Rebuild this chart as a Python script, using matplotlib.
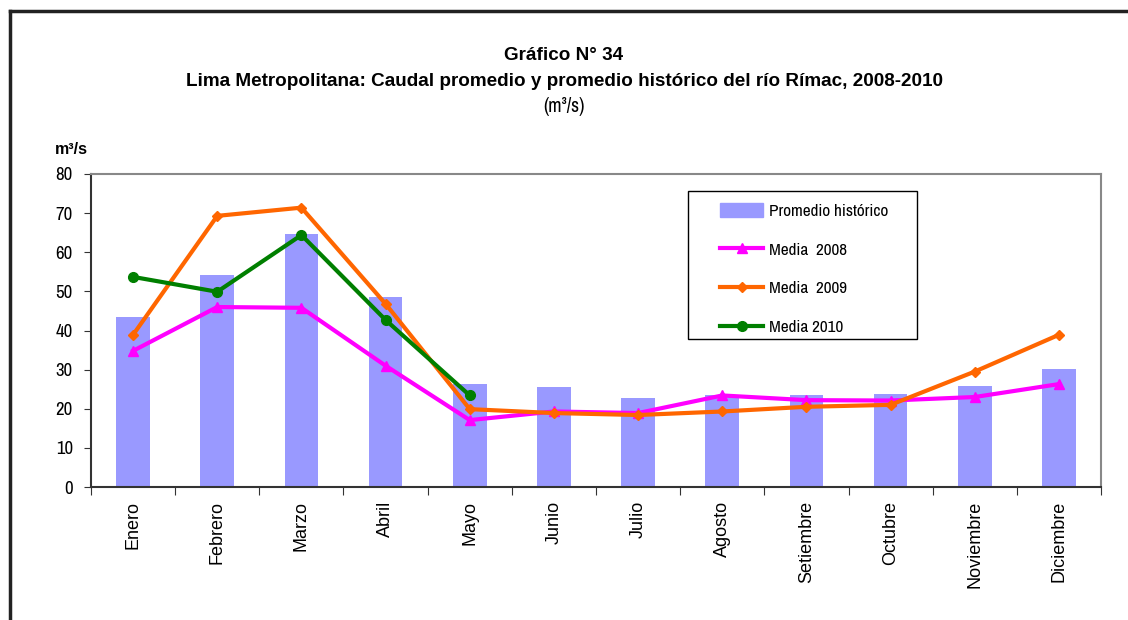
import numpy as np
import matplotlib
matplotlib.use("Agg")
import matplotlib.pyplot as plt
from matplotlib.patches import Rectangle
from matplotlib.lines import Line2D

meses = ["Enero", "Febrero", "Marzo", "Abril", "Mayo", "Junio", "Julio",
         "Agosto", "Setiembre", "Octubre", "Noviembre", "Diciembre"]
promedio_historico = [43.5, 54.2, 64.7, 48.6, 26.3, 25.6, 22.8, 23.5, 23.5, 23.8, 25.9, 30.2]
media_2008 = [34.8, 46.0, 45.8, 31.0, 17.1, 19.3, 18.9, 23.4, 22.2, 22.1, 23.0, 26.3]
media_2009 = [38.9, 69.3, 71.4, 46.8, 19.9, 18.9, 18.4, 19.3, 20.5, 21.0, 29.5, 38.9]
media_2010 = [53.7, 49.9, 64.4, 42.7, 23.4]

narrow = ["Archivo Narrow", "DejaVu Sans"]
sans = ["Liberation Sans", "Arimo", "DejaVu Sans"]

W, H = 1128, 620


def fx(px):
    return px / W


def fy(py):
    return 1 - py / H


fig = plt.figure(figsize=(W / 100, H / 100), dpi=100)
ax = fig.add_axes([fx(91), fy(487), fx(1101) - fx(91), fy(174) - fy(487)])

x = np.arange(len(meses))
ax.bar(x, promedio_historico, width=0.4, color="#9999ff", zorder=1)
ax.plot(x, media_2008, color="#ff00ff", lw=3, marker="^", ms=7, zorder=3)
ax.plot(x, media_2009, color="#ff6600", lw=3, marker="D", ms=5, zorder=4)
ax.plot(x[:len(media_2010)], media_2010, color="#007f00", lw=3, marker="o", ms=7, zorder=5)

ax.set_xlim(-0.5, len(meses) - 0.5)
ax.set_ylim(0, 80)
ax.set_yticks(range(0, 81, 10))
ax.set_xticks(np.arange(-0.5, len(meses), 1.0))
ax.set_xticklabels([])
ax.set_xticks(x, minor=True)
ax.set_xticklabels(meses, minor=True, rotation=90, fontsize=13, family=sans)
ax.tick_params(axis="x", which="minor", length=0, pad=10)
ax.tick_params(axis="x", which="major", length=6, direction="out", color="#333333")
ax.tick_params(axis="y", length=5, direction="out", color="#333333", pad=8)
for lbl in ax.get_yticklabels():
    lbl.set_family(narrow)
    lbl.set_fontsize(13.5)

for s in ["top", "right"]:
    ax.spines[s].set_color("#888888")
    ax.spines[s].set_linewidth(1.5)
for s in ["left", "bottom"]:
    ax.spines[s].set_color("#333333")
    ax.spines[s].set_linewidth(1.5)

# leyenda: caja propia y entradas sin marco
fig.add_artist(Rectangle((fx(688), fy(339)), fx(917) - fx(688), fy(191) - fy(339),
                         transform=fig.transFigure, facecolor="white",
                         edgecolor="black", lw=1.0, zorder=6))
handles = [
    Rectangle((0, 0), 1, 1, color="#9999ff"),
    Line2D([], [], color="#ff00ff", lw=3, marker="^", ms=7),
    Line2D([], [], color="#ff6600", lw=3, marker="D", ms=5),
    Line2D([], [], color="#007f00", lw=3, marker="o", ms=7),
]
labels = ["Promedio histórico", "Media  2008", "Media  2009", "Media 2010"]
leg = fig.legend(handles, labels, loc="center left",
                 bbox_to_anchor=(fx(720), fy(269)), bbox_transform=fig.transFigure,
                 prop={"family": narrow, "size": 12.4}, frameon=False,
                 labelspacing=1.32, handlelength=2.5, handleheight=0.9,
                 borderpad=0, handletextpad=0.35, borderaxespad=0)
leg.set_zorder(7)

# titulos
fig.text(0.5, fy(55), "Gráfico N° 34", ha="center", va="center",
         fontsize=13.6, fontweight="bold", family=sans)
fig.text(0.5, fy(82),
         "Lima Metropolitana: Caudal promedio y promedio histórico del río Rímac, 2008-2010",
         ha="center", va="center", fontsize=13.6, fontweight="bold", family=sans)
fig.text(0.5, fy(107), "(m³/s)", ha="center", va="center", fontsize=14, family=narrow)
fig.text(fx(55), fy(150), "m³/s", ha="left", va="center",
         fontsize=11.5, fontweight="bold", family=sans)

# marco exterior
fig.add_artist(Line2D([fx(10), 1], [fy(11), fy(11)], color="#222222", lw=2.5))
fig.add_artist(Line2D([fx(10), fx(10)], [0, fy(11)], color="#222222", lw=2.5))

fig.savefig("out.png", dpi=100)
